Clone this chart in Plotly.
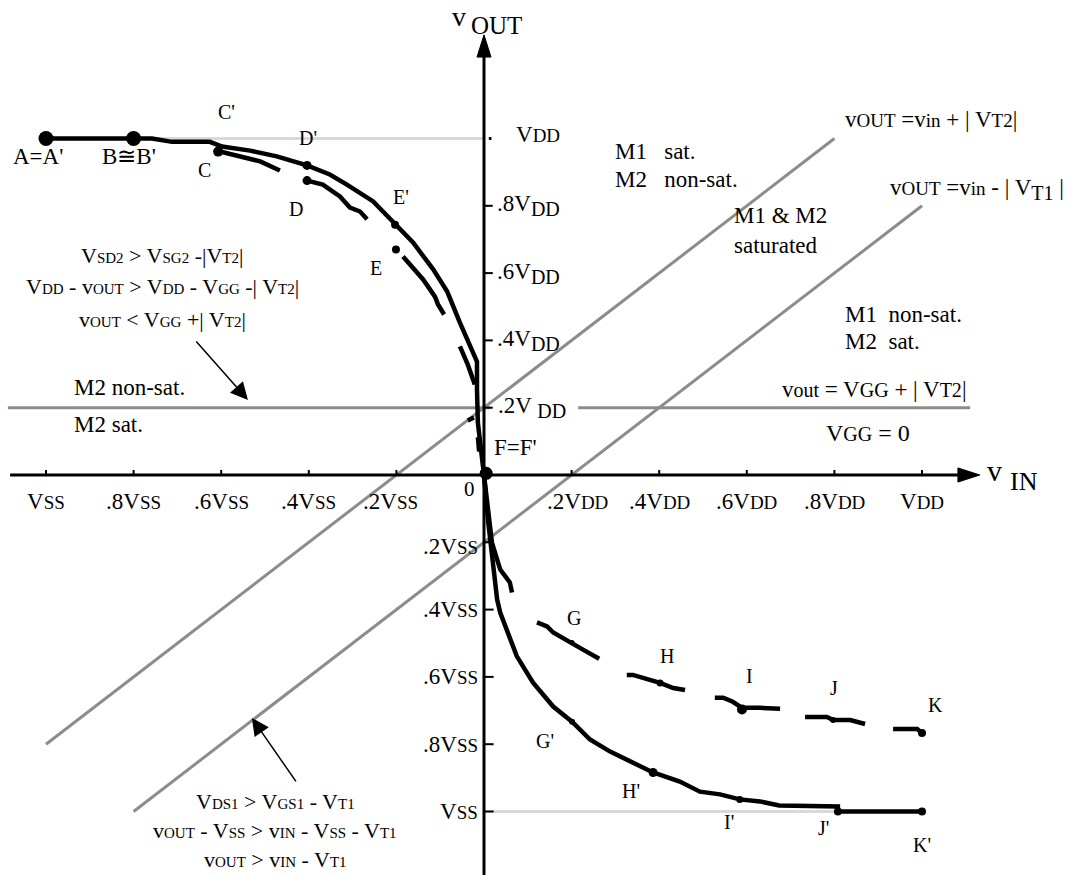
import plotly.graph_objects as go

# Voltages are normalised: V_DD = +1, V_SS = -1, |V_T1| = |V_T2| = 0.2
VT = 0.2

# Transfer curve through the primed points A' ... K'
vin_p = [-1.0, -0.8, -0.758, -0.712, -0.626, -0.598, -0.534, -0.473, -0.404, -0.352,
         -0.313, -0.253, -0.203, -0.162, -0.116, -0.084, -0.055, -0.037, -0.016, -0.016,
         -0.014, -0.005, 0.0, 0.009, 0.021, 0.030, 0.037, 0.059, 0.075, 0.112,
         0.158, 0.201, 0.242, 0.288, 0.333, 0.386, 0.447, 0.493, 0.539, 0.584,
         0.630, 0.674, 0.808, 0.808, 1.0]
vout_p = [1.0, 1.0, 1.0, 0.99, 0.99, 0.976, 0.964, 0.947, 0.920, 0.893,
          0.863, 0.813, 0.744, 0.691, 0.611, 0.545, 0.453, 0.403, 0.337, 0.254,
          0.156, 0.055, 0.0, -0.132, -0.266, -0.370, -0.409, -0.480, -0.539, -0.617,
          -0.688, -0.733, -0.786, -0.822, -0.851, -0.884, -0.911, -0.941, -0.949, -0.964,
          -0.970, -0.982, -0.985, -1.0, -1.0]

# Unprimed curve (C ... K), drawn as separate pieces (None breaks the line)
vin_u = [-0.605, -0.573, -0.511, -0.466, None,
         -0.404, -0.368, -0.329, -0.306, -0.283, -0.267, None,
         -0.185, -0.139, -0.112, -0.105, -0.091, None,
         -0.055, -0.037, -0.021, None,
         -0.037, -0.023, None,
         -0.014, -0.011, None,
         0.0, 0.018, 0.037, 0.059, 0.064, None,
         0.121, 0.144, 0.158, 0.201, 0.226, 0.263, None,
         0.326, 0.340, 0.402, 0.432, 0.459, None,
         0.527, 0.546, 0.568, 0.589, 0.630, 0.676, None,
         0.733, 0.783, 0.797, 0.836, 0.870, None,
         0.934, 0.989, 1.0]
vout_u = [0.962, 0.952, 0.932, 0.905, None,
          0.875, 0.863, 0.828, 0.795, 0.783, 0.760, None,
          0.649, 0.581, 0.530, 0.507, 0.477, None,
          0.382, 0.328, 0.269, None,
          0.162, 0.171, None,
          0.112, 0.070, None,
          0.0, -0.200, -0.281, -0.319, -0.349, None,
          -0.438, -0.450, -0.468, -0.498, -0.519, -0.546, None,
          -0.594, -0.594, -0.618, -0.633, -0.639, None,
          -0.662, -0.662, -0.674, -0.692, -0.692, -0.695, None,
          -0.719, -0.719, -0.728, -0.728, -0.740, None,
          -0.755, -0.755, -0.767]

# Operating points (A, B, C, D', D, E', E, F, G, G', H, H', I, I', J, J', K, K')
pt_x = [-1.0, -0.8, -0.607, -0.404, -0.404, -0.203, -0.201, 0.005, 0.201, 0.201,
        0.402, 0.386, 0.589, 0.584, 0.797, 0.808, 1.0, 1.0]
pt_y = [1.0, 1.0, 0.961, 0.920, 0.875, 0.744, 0.670, 0.005, -0.498, -0.733,
        -0.618, -0.884, -0.697, -0.964, -0.728, -1.0, -0.767, -1.0]
pt_size = [15, 15, 10, 9, 9, 8, 8, 13, 5, 6, 7, 9, 10, 7, 6, 8, 8, 8]

# Point letters
lbl_text = ["A=A'", "B\u2245B'", "C'", "C", "D'", "D", "E'", "E", "F=F'", "G", "G'",
            "H", "H'", "I", "I'", "J", "J'", "K", "K'"]
lbl_x = [-1.018, -0.811, -0.587, -0.637, -0.402, -0.429, -0.189, -0.247, 0.073, 0.205,
         0.139, 0.418, 0.336, 0.607, 0.559, 0.799, 0.774, 1.030, 1.0]
lbl_y = [0.948, 0.948, 1.079, 0.906, 1.001, 0.790, 0.826, 0.615, 0.083, -0.425,
         -0.790, -0.538, -0.939, -0.597, -1.031, -0.633, -1.049, -0.684, -1.100]

# Axis ticks
tick_vals = [0.2, 0.4, 0.6, 0.8, 1.0]
tick_pref = [".2", ".4", ".6", ".8", ""]

SERIF = "Liberation Serif"
BLACK = "black"
DARK_GRAY = "#8c8c8c"
LIGHT_GRAY = "#d9d9d9"


def sm(t, px=15):
    return f"<span style='font-size:{px}px'>{t}</span>"


def lo(t, px=20):
    return f"<sub><span style='font-size:{px}px'>{t}</span></sub>"


fig = go.Figure()

# Reference lines: supply rails, M2 boundary and the two saturation boundaries
fig.add_trace(go.Scatter(x=[-1.0, 0.0], y=[1.0, 1.0], mode="lines",
                         line=dict(color=LIGHT_GRAY, width=3), hoverinfo="skip"))
fig.add_trace(go.Scatter(x=[0.0, 0.808], y=[-1.0, -1.0], mode="lines",
                         line=dict(color=LIGHT_GRAY, width=3), hoverinfo="skip"))
fig.add_trace(go.Scatter(x=[-1.087, 0.014, None, 0.215, 1.11], y=[VT, VT, None, VT, VT],
                         mode="lines", line=dict(color=DARK_GRAY, width=3), hoverinfo="skip"))
fig.add_trace(go.Scatter(x=[-1.0, 1.0 - VT], y=[-1.0 + VT, 1.0], mode="lines",
                         line=dict(color=DARK_GRAY, width=3), hoverinfo="skip"))
fig.add_trace(go.Scatter(x=[-1.0 + VT, 1.0], y=[-1.0, 1.0 - VT], mode="lines",
                         line=dict(color=DARK_GRAY, width=3), hoverinfo="skip"))

# Transfer characteristics
fig.add_trace(go.Scatter(x=vin_p, y=vout_p, mode="lines",
                         line=dict(color=BLACK, width=4.5), hoverinfo="skip"))
fig.add_trace(go.Scatter(x=vin_u, y=vout_u, mode="lines", connectgaps=False,
                         line=dict(color=BLACK, width=4.5), hoverinfo="skip"))
fig.add_trace(go.Scatter(x=pt_x, y=pt_y, mode="markers",
                         marker=dict(color=BLACK, size=pt_size, opacity=1,
                                     line=dict(width=0, color=BLACK)),
                         hoverinfo="skip"))

shapes = []
# Axes
X_END, Y_END, Y_BOT = 1.082, 1.242, -1.19
shapes.append(dict(type="line", x0=-1.082, y0=0, x1=X_END, y1=0,
                   line=dict(color=BLACK, width=3)))
shapes.append(dict(type="line", x0=0, y0=Y_BOT, x1=0, y1=Y_END,
                   line=dict(color=BLACK, width=3)))
hx, hy = 0.050, 0.021   # arrow head of the v_IN axis
shapes.append(dict(type="path", path=f"M{X_END},{-hy} L{X_END + hx},0 L{X_END},{hy} Z",
                   fillcolor=BLACK, line=dict(color=BLACK, width=1)))
vx, vy = 0.016, 0.066   # arrow head of the v_OUT axis
shapes.append(dict(type="path", path=f"M{-vx},{Y_END} L0,{Y_END + vy} L{vx},{Y_END} Z",
                   fillcolor=BLACK, line=dict(color=BLACK, width=1)))

# Tick marks
for v in tick_vals:
    for s in (-1, 1):
        shapes.append(dict(type="line", x0=s * v, y0=0, x1=s * v, y1=0.015,
                           line=dict(color=BLACK, width=2)))
    shapes.append(dict(type="line", x0=0, y0=-v, x1=0.022, y1=-v,
                       line=dict(color=BLACK, width=2)))
    if v < 1.0:
        shapes.append(dict(type="line", x0=0, y0=v, x1=0.02, y1=v,
                           line=dict(color=BLACK, width=2)))
    else:
        shapes.append(dict(type="line", x0=0.011, y0=v, x1=0.017, y1=v,
                           line=dict(color=BLACK, width=3)))

annotations = []


def txt(x, y, text, size=22, xanchor="center", yanchor="middle", **kw):
    annotations.append(dict(x=x, y=y, text=text, showarrow=False, xanchor=xanchor,
                            yanchor=yanchor, font=dict(family=SERIF, size=size, color=BLACK),
                            **kw))


# Tick labels on the v_IN axis
for v, p in zip(tick_vals, tick_pref):
    shift = -6 if v == 0.2 else 0
    txt(-v, -0.08, p + "V" + sm("SS", 19), size=23, xshift=shift)
    txt(v, -0.08, p + "V" + sm("DD", 19), size=23, xshift=-shift)

# Tick labels on the v_OUT axis
for v, p in zip(tick_vals, tick_pref):
    if v == 1.0:
        txt(0.178, v, "V" + sm("DD", 19), size=23, xanchor="right", yshift=4)
    elif v == 0.2:
        txt(0.191, v, p + "V " + lo("DD"), size=23, xanchor="right")
    else:
        txt(0.178, v, p + "V" + lo("DD"), size=23, xanchor="right")
    txt(-0.010, -v, p + "V" + sm("SS", 19), size=23, xanchor="right",
        yshift=-4 if v == 0.2 else 0)

txt(-0.032, -0.042, "0", size=21)

# Axis titles
txt(-0.058, 475 / 336.5, "v", size=28, yanchor="top", borderpad=0)
txt(0.029, 1.337, "OUT", size=25)
txt(1.166, 0.012, "v", size=30)
txt(1.234, -0.019, "IN", size=26)

# Point letters
for t, x, y in zip(lbl_text, lbl_x, lbl_y):
    txt(x, y, t, size=23 if "=" in t or "\u2245" in t else 20)

# Operating regions
txt(0.295, 0.960, "M1\u00a0\u00a0 sat.", size=23, xanchor="left")
txt(0.295, 0.877, "M2\u00a0\u00a0 non-sat.", size=23, xanchor="left")
txt(0.566, 0.770, "M1 &amp; M2", size=23, xanchor="left")
txt(0.566, 0.683, "saturated", size=23, xanchor="left")
txt(0.820, 0.478, "M1\u00a0 non-sat.", size=23, xanchor="left")
txt(0.820, 0.398, "M2\u00a0 sat.", size=23, xanchor="left")
txt(-0.941, 0.259, "M2 non-sat.", size=23, xanchor="left")
txt(-0.941, 0.149, "M2 sat.", size=23, xanchor="left")

# Boundary equations
txt(0.820, 1.055, "v" + sm("OUT", 19) + " =v" + sm("in", 19) + " + | V" + sm("T2", 19) + "|",
    size=23, xanchor="left")
txt(0.922, 0.847, "v" + sm("OUT", 19) + " =v" + sm("in", 19) + " - | V" + lo("T1", 20) + " |",
    size=23, xanchor="left")
txt(0.890, 0.253, "v" + sm("out", 20) + " = V" + sm("GG", 20) + " + | V" + sm("T2", 20) + "|",
    size=23)
txt(0.877, 0.125, "V" + sm("GG", 20) + " = 0", size=24)

# Saturation conditions
up_lines = [
    "V" + sm("SD2") + " &gt; V" + sm("SG2") + " -|V" + sm("T2") + "|",
    "V" + sm("DD") + " - v" + sm("OUT") + " &gt; V" + sm("DD") + " - V" + sm("GG") + " -| V" + sm("T2") + "|",
    "v" + sm("OUT") + " &lt; V" + sm("GG") + " +| V" + sm("T2") + "|",
]
for t, y in zip(up_lines, [0.651, 0.559, 0.461]):
    txt(-0.735, y, t, size=22)

low_lines = [
    "V" + sm("DS1") + " &gt; V" + sm("GS1") + " - V" + sm("T1"),
    "v" + sm("OUT") + " - V" + sm("SS") + " &gt; v" + sm("IN") + " - V" + sm("SS") + " - V" + sm("T1"),
    "v" + sm("OUT") + " &gt; v" + sm("IN") + " - V" + sm("T1"),
]
for t, y in zip(low_lines, [-0.969, -1.055, -1.144]):
    txt(-0.477, y, t, size=22)

# Call-out arrows
for (x, y, ax, ay) in [(-0.539, 0.223, -0.660, 0.401), (-0.530, -0.722, -0.427, -0.915)]:
    annotations.append(dict(x=x, y=y, ax=ax, ay=ay, xref="x", yref="y", axref="x", ayref="y",
                            text="", showarrow=True, arrowhead=2, arrowsize=2.3,
                            arrowwidth=1.5, arrowcolor=BLACK))

fig.update_layout(
    width=1086, height=875,
    margin=dict(l=0, r=0, t=0, b=0),
    paper_bgcolor="white", plot_bgcolor="white",
    showlegend=False,
    xaxis=dict(range=[-484 / 438, (1086 - 484) / 438], visible=False, fixedrange=True),
    yaxis=dict(range=[-(875 - 475) / 336.5, 475 / 336.5], visible=False, fixedrange=True),
    shapes=shapes,
    annotations=annotations,
)

fig.write_html("out.html")
